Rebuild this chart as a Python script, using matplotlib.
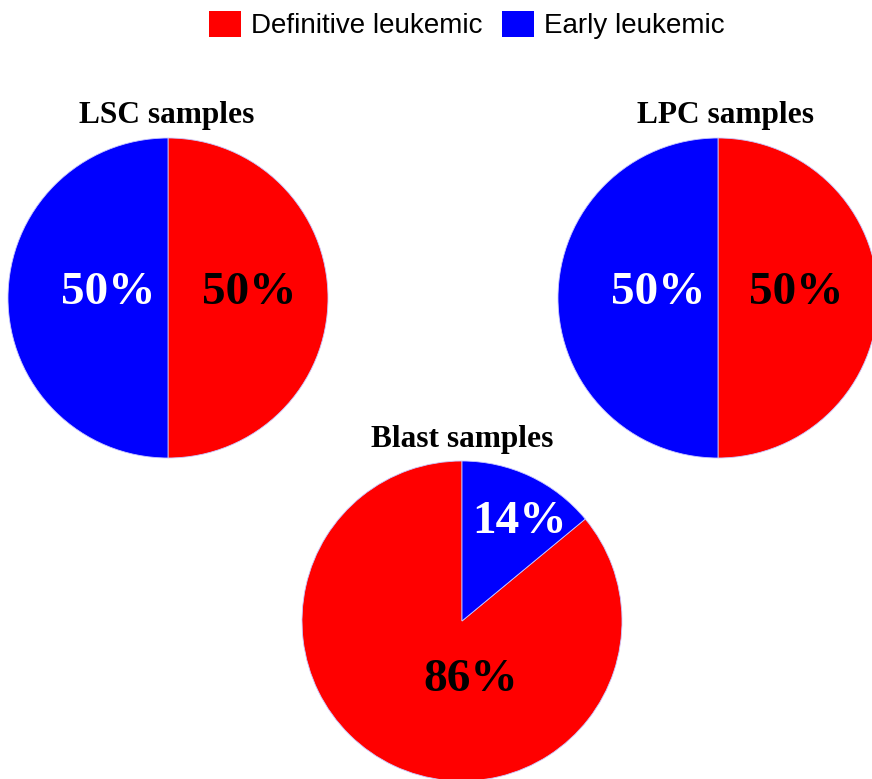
import matplotlib
matplotlib.use('Agg')
import matplotlib.pyplot as plt
from matplotlib.patches import Patch

categories = ['Definitive leukemic', 'Early leukemic']
colors = ['#ff0000', '#0000ff']
label_colors = ['black', 'white']

titles = ['LSC samples', 'LPC samples', 'Blast samples']
values = [[50, 50], [50, 50], [86, 14]]
# draw direction per pie (matches how the source laid out the slices)
counterclock = [False, False, True]

W, H = 872, 779
fig = plt.figure(figsize=(W / 100, H / 100), dpi=100)

# pie centres and radius, in pixels from the top-left
centres = [(168, 298), (718, 298), (462, 621)]
R = 160
title_pos = [(167, 115), (725, 115), (462, 440)]
# label offsets in units of the radius (x right, y up)
label_off = [
    [(0.51, 0.03), (-0.375, 0.03)],
    [(0.49, 0.03), (-0.375, 0.03)],
    [(0.056, -0.37), (0.36, 0.62)],
]

for i, vals in enumerate(values):
    cx, cy = centres[i]
    ax = fig.add_axes([(cx - R) / W, (H - cy - R) / H, 2 * R / W, 2 * R / H])
    ax.pie(vals, colors=colors, startangle=90, counterclock=counterclock[i],
           radius=1, wedgeprops=dict(edgecolor='#c8c8ff', linewidth=0.6))
    ax.set_xlim(-1, 1)
    ax.set_ylim(-1, 1)
    ax.set_aspect('equal')
    ax.axis('off')
    for j, v in enumerate(vals):
        dx, dy = label_off[i][j]
        ax.text(dx, dy, f'{v}%', ha='center', va='center',
                fontsize=34, fontweight='bold', family='Liberation Serif',
                color=label_colors[j])
    tx, ty = title_pos[i]
    fig.text(tx / W, 1 - ty / H, titles[i], ha='center', va='center',
             fontsize=22.6, fontweight='bold', family='Liberation Serif')

handles = [Patch(facecolor=c, edgecolor='none') for c in colors]
fig.legend(handles, categories, loc='center', bbox_to_anchor=(466.5 / W, 1 - 25 / H),
           ncol=2, frameon=False, borderpad=0, handlelength=1.16, handleheight=1.08,
           handletextpad=0.36, columnspacing=0.69,
           prop={'family': 'Liberation Sans', 'size': 20})

fig.savefig('out.png', dpi=100)
